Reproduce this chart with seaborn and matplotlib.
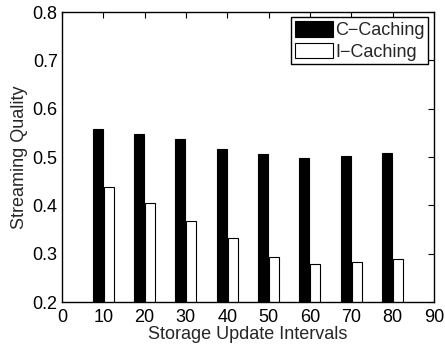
import matplotlib
matplotlib.use("Agg")
import matplotlib.pyplot as plt
import seaborn as sns
import pandas as pd

intervals = [10, 20, 30, 40, 50, 60, 70, 80]
c_caching = [0.558, 0.548, 0.538, 0.517, 0.506, 0.497, 0.502, 0.508]
i_caching = [0.437, 0.404, 0.367, 0.332, 0.293, 0.278, 0.283, 0.290]
series_names = ["C\u2212Caching", "I\u2212Caching"]
x_ticks = [0, 10, 20, 30, 40, 50, 60, 70, 80, 90]
y_ticks = [0.2, 0.3, 0.4, 0.5, 0.6, 0.7, 0.8]

df = pd.DataFrame({
    "interval": intervals * 2,
    "quality": c_caching + i_caching,
    "method": [series_names[0]] * len(intervals) + [series_names[1]] * len(intervals),
})

sns.set_style("white")
plt.rcParams["font.family"] = ["Liberation Sans", "DejaVu Sans"]
plt.rcParams["font.size"] = 13

fig = plt.figure(figsize=(4.45, 3.48), dpi=100)
ax = fig.add_axes([0.139, 0.132, 0.836, 0.8335])

sns.barplot(data=df, x="interval", y="quality", hue="method", native_scale=True,
            palette=["black", "white"], width=0.54, gap=0.11, edgecolor="black",
            linewidth=0.8, ax=ax, errorbar=None, saturation=1)

ax.set_xlim(0, 90)
ax.set_ylim(0.2, 0.8)
ax.set_xticks(x_ticks)
ax.set_xticklabels([str(t) for t in x_ticks])
ax.set_yticks(y_ticks)
ax.set_yticklabels([f"{t:.1f}" for t in y_ticks])
ax.tick_params(direction="in", length=4, width=0.8, top=True, right=True,
               labelsize=13, colors="black")
ax.tick_params(axis="x", pad=5)
ax.tick_params(axis="y", pad=3)
for s in ax.spines.values():
    s.set_visible(True)
    s.set_color("black")
    s.set_linewidth(1.0)

ax.set_xlabel("Storage Update Intervals", fontsize=13, labelpad=0)
ax.set_ylabel("Streaming Quality", fontsize=13, labelpad=3)

leg = ax.legend(loc="upper right", fontsize=13, frameon=True, fancybox=False,
                edgecolor="black", framealpha=1, handlelength=2.1, handleheight=0.95,
                borderpad=0.2, labelspacing=0.2, handletextpad=0.15,
                borderaxespad=0.3, title=None)
leg.get_frame().set_linewidth(1.0)

fig.savefig("out.png", dpi=100)
